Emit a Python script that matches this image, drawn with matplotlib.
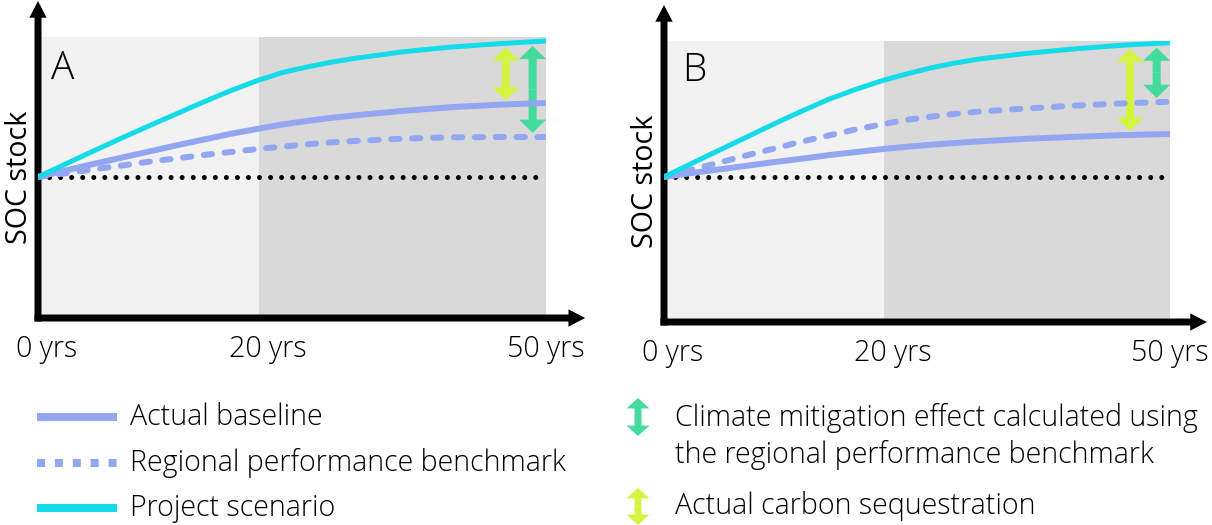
"""
SOC stock schematic: project scenario vs. actual baseline and
regional performance benchmark, two cases (A and B).
"""

import numpy as np
import matplotlib

matplotlib.use("Agg")
import matplotlib.pyplot as plt
import matplotlib.transforms as mtransforms
from matplotlib.patches import FancyArrowPatch
from matplotlib.lines import Line2D

plt.rcParams["font.family"] = ["Open Sans", "DejaVu Sans"]
plt.rcParams["font.weight"] = "light"

# ---- data (arbitrary SOC units, 0 = x-axis) ----
years = [0, 2.5, 5, 7.5, 10, 12.5, 15, 17.5, 20, 22.5, 25, 27.5, 30, 35, 40, 45, 50]
tick_years = [0, 20, 50]
tick_labels = ["0 yrs", "20 yrs", "50 yrs"]
split_year = 20

project_a = [50.2, 54.8, 59.4, 63.9, 68.3, 72.6, 76.9, 81.0, 84.7,
             87.4, 89.3, 91.0, 92.4, 94.7, 96.4, 97.6, 98.6]
baseline_a = [50.2, 52.5, 54.8, 57.0, 59.2, 61.4, 63.5, 65.6, 67.4,
              68.9, 70.1, 71.2, 72.1, 73.7, 75.0, 75.9, 76.5]
benchmark_a = [50.2, 51.5, 52.9, 54.2, 55.6, 56.8, 58.0, 59.1, 60.2,
               61.0, 61.8, 62.5, 63.0, 63.8, 64.3, 64.4, 64.4]

project_b = [51.6, 56.4, 61.1, 65.8, 70.5, 75.0, 79.3, 82.9, 86.1,
             88.4, 90.5, 92.2, 93.6, 95.6, 97.2, 98.5, 99.4]
baseline_b = [51.6, 53.0, 54.3, 55.6, 56.9, 58.1, 59.4, 60.5, 61.6,
              62.4, 63.1, 63.7, 64.3, 65.2, 65.9, 66.5, 66.9]
benchmark_b = [51.6, 54.2, 56.7, 59.3, 61.7, 64.2, 66.4, 68.6, 70.5,
               72.0, 73.1, 74.1, 74.9, 76.0, 77.0, 77.8, 78.4]

# years where the double arrows are placed
seq_year = 45.8
mitig_year = 48.6

legend_lines = ["Actual baseline", "Regional performance benchmark", "Project scenario"]
legend_arrows = [
    "Climate mitigation effect calculated using\nthe regional performance benchmark",
    "Actual carbon sequestration",
]

CYAN = "#13dbe9"
LAVENDER = "#93a6f1"
LIME = "#d3f540"
GREEN = "#43db9e"
LIGHT = "#f2f2f2"
DARK = "#d9d9d9"
FS = 20.6

W, H = 1212, 525


def fx(px):
    return px / W


def fy(py):
    return 1 - py / H


# schematic time axis: 0-20 yrs takes ~44% of the width
_yr = [-100, 0, 20, 50, 150]
_pos = [-2.175, 0, 0.435, 1, 2.883]


def fwd(x):
    return np.interp(x, _yr, _pos)


def inv(x):
    return np.interp(x, _pos, _yr)


def double_arrow(fig_or_ax, x, y0, y1, color, transform, hw, hl, tw):
    mid = (y0 + y1) / 2
    for end in (y0, y1):
        p = FancyArrowPatch(
            (x, mid), (x, end), transform=transform,
            arrowstyle=f"simple,head_length={hl},head_width={hw},tail_width={tw}",
            mutation_scale=1, color=color, lw=0, shrinkA=0, shrinkB=0,
            clip_on=False,
        )
        fig_or_ax.add_artist(p)


def axis_arrow(ax, start, end):
    p = FancyArrowPatch(
        start, end, transform=ax.transAxes,
        arrowstyle="simple,head_length=12,head_width=12.5,tail_width=5",
        mutation_scale=1, color="black", lw=0, shrinkA=0, shrinkB=0,
        clip_on=False,
    )
    ax.add_artist(p)


def panel(ax, letter, project, baseline, benchmark, x_end, y_end, lx, ly):
    ax.set_xscale("function", functions=(fwd, inv))
    ax.set_xlim(0, 50)
    ax.set_ylim(0, 100)
    ax.axvspan(0, split_year, color=LIGHT, lw=0, zorder=0)
    ax.axvspan(split_year, 50, color=DARK, lw=0, zorder=0)
    for s in ax.spines.values():
        s.set_visible(False)

    ax.plot(years, [project[0]] * len(years), color="black", lw=3.6,
            linestyle=(0, (0.01, 2.2)), dash_capstyle="round", zorder=2)
    ax.plot(years, benchmark, color=LAVENDER, lw=4.3,
            linestyle=(0, (1.4, 2.1)), dash_capstyle="round", zorder=3)
    ax.plot(years, baseline, color=LAVENDER, lw=4.3,
            solid_capstyle="round", zorder=3)
    ax.plot(years, project, color=CYAN, lw=3.6,
            solid_capstyle="round", zorder=4)

    gap = 1.5
    top = np.interp(seq_year, years, project) - gap
    bot = np.interp(seq_year, years, baseline) + gap
    double_arrow(ax, seq_year, bot, top, LIME, ax.transData, 19.5, 9.5, 5.8)
    top = np.interp(mitig_year, years, project) - gap
    bot = np.interp(mitig_year, years, benchmark) + gap
    double_arrow(ax, mitig_year, bot, top, GREEN, ax.transData, 19.5, 9.5, 5.8)

    axis_arrow(ax, (-0.007, 0), (x_end, 0))
    axis_arrow(ax, (0, -0.0125), (0, y_end))

    ax.set_xticks(tick_years, tick_labels)
    ax.tick_params(axis="x", length=0, pad=12, labelsize=FS)
    shift = mtransforms.ScaledTranslation(0.09, 0, ax.figure.dpi_scale_trans)
    for lab in ax.get_xticklabels()[:2]:
        lab.set_transform(lab.get_transform() + shift)
    ax.set_yticks([])
    ax.set_ylabel("SOC stock", fontsize=FS, labelpad=3)
    ax.text(lx, ly, letter, transform=ax.transAxes, fontsize=28,
            ha="left", va="center")


fig = plt.figure(figsize=(W / 100, H / 100), dpi=100)
ax_a = fig.add_axes([fx(38), fy(318), fx(508), 281 / H])
ax_b = fig.add_axes([fx(664), fy(322), fx(506), 281 / H])
ax_a.patch.set_alpha(0)
ax_b.patch.set_alpha(0)

panel(ax_a, "A", project_a, baseline_a, benchmark_a, 1.077, 1.128, 0.026, 0.886)
panel(ax_b, "B", project_b, baseline_b, benchmark_b, 1.073, 1.128, 0.036, 0.893)

# ---- legend ----
line_styles = [
    dict(color=LAVENDER, linestyle="-"),
    dict(color=LAVENDER, linestyle=(0, (1.0, 1.22))),
    dict(color=CYAN, linestyle="-"),
]
for label, style, py in zip(legend_lines, line_styles, [417, 463, 508]):
    fig.add_artist(Line2D([fx(37), fx(117)], [fy(py), fy(py)],
                          transform=fig.transFigure, lw=5.8,
                          solid_capstyle="butt", dash_capstyle="butt", **style))
    fig.text(fx(130), fy(py), label, fontsize=FS, ha="left", va="center")

for label, color, (py0, py1), pyt in zip(
    legend_arrows, [GREEN, LIME], [(436, 398), (525, 488)], [436.5, 506]
):
    double_arrow(fig, fx(638), fy(py0), fy(py1), color, fig.transFigure,
                 16.5, 7.5, 5)
    fig.text(fx(675), fy(pyt), label, fontsize=FS, ha="left", va="center",
             linespacing=1.3)

fig.savefig("out.png", dpi=100)
